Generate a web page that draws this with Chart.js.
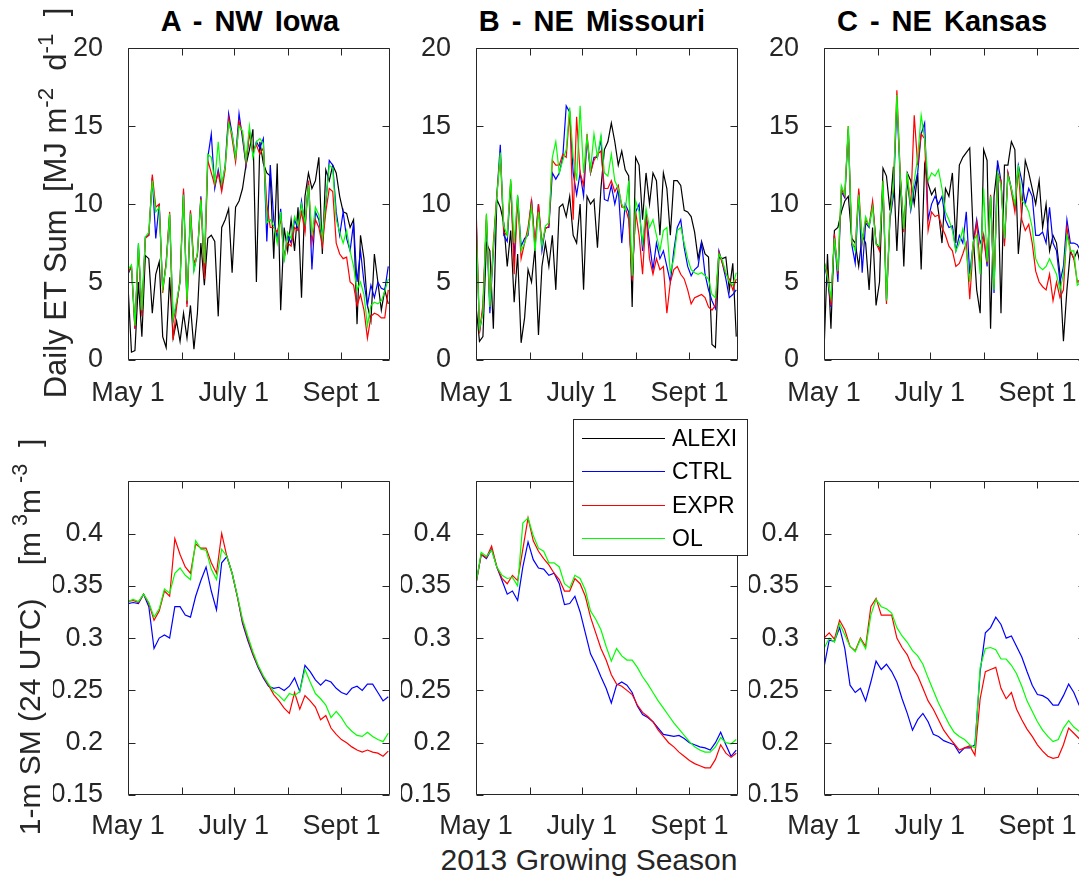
<!DOCTYPE html>
<html>
<head>
<meta charset="utf-8">
<title>ET and soil moisture, 2013 growing season</title>
<script src="https://cdn.jsdelivr.net/npm/chart.js@4.4.0/dist/chart.umd.min.js"></script>
<style>
  html, body { margin: 0; padding: 0; overflow: hidden; }
  body {
    width: 1079px; height: 882px; position: relative; background: #fff;
    font-family: "Liberation Sans", Arial, Helvetica, sans-serif; color: #262626;
  }
  canvas.panel { position: absolute; }
  .title {
    position: absolute; top: 5px; width: 340px; margin-left: -170px;
    text-align: center; font-weight: bold; font-size: 29px; line-height: 32px;
    color: #000; white-space: pre; word-spacing: 4px;
  }
  .ylab {
    position: absolute; width: 560px; height: 36px; line-height: 36px;
    margin-left: -280px; margin-top: -18px; text-align: center;
    font-size: 30px; transform: rotate(-90deg); white-space: pre; z-index: 5;
  }
  .ylab.et { font-size: 31px; }
  .ylab sup { font-size: 0.72em; vertical-align: 0.6em; line-height: 0; }
  .xlab {
    position: absolute; left: 389px; top: 843px; width: 400px; text-align: center;
    font-size: 30px; line-height: 34px;
  }
  #legend {
    position: absolute; left: 573px; top: 419px; width: 175px; height: 137px;
    box-sizing: border-box; border: 1px solid #262626; background: #fff; z-index: 10;
  }
  #legend canvas { position: absolute; left: 0; top: 0; }
  #legend .name { position: absolute; left: 98px; font-size: 23px; line-height: 26px; color: #000; }
</style>
</head>
<body>

<div class="title" style="left:250px">A - NW Iowa</div>
<div class="title" style="left:592px">B - NE Missouri</div>
<div class="title" style="left:942px">C - NE Kansas</div>

<div class="ylab et" style="left:56px; top:203px">Daily ET Sum  [MJ m<sup>-2</sup>  d<sup>-1</sup>  ]</div>
<div class="ylab" style="left:30px; top:637px">1-m SM (24 UTC)    [m<sup> 3</sup>m<sup> -3</sup>  ]</div>
<div class="xlab">2013 Growing Season</div>

<div id="legend"><canvas id="legendLines" width="173" height="135"></canvas></div>

<canvas id="etA" class="panel"></canvas>
<canvas id="etB" class="panel"></canvas>
<canvas id="etC" class="panel"></canvas>
<canvas id="smA" class="panel"></canvas>
<canvas id="smB" class="panel"></canvas>
<canvas id="smC" class="panel"></canvas>

<script>
// ---- data (days counted from May 1, 2013) ----
const seriesNames = ['ALEXI', 'CTRL', 'EXPR', 'OL'];
const seriesColors = ['#000000', '#0000ff', '#ff0000', '#00ff00'];

const xTickDays = [0, 31, 61, 92, 123];
const xTickLabels = ['May 1', '', 'July 1', '', 'Sept 1'];

const etTicks = [0, 5, 10, 15, 20];
const etTickLabels = ['0', '5', '10', '15', '20'];
const smTicks = [0.15, 0.2, 0.25, 0.3, 0.35, 0.4, 0.45];
const smTickLabels = ['0.15', '0.2', '0.25', '0.3', '0.35', '0.4', ''];

const etDays = [
  0, 2, 4, 6, 8, 10, 12, 14, 16, 18,
  20, 22, 24, 26, 28, 30, 32, 34, 36, 38,
  40, 42, 44, 46, 48, 50, 52, 54, 56, 58,
  60, 62, 64, 66, 68, 70, 72, 74, 76, 78,
  80, 82, 84, 86, 88, 90, 92, 94, 96, 98,
  100, 102, 104, 106, 108, 110, 112, 114, 116, 118,
  120, 122, 124, 126, 128, 130, 132, 134, 136, 138,
  140, 142, 144, 146, 148, 150
];
const smDays = [
  0, 3, 6, 9, 12, 15, 18, 21, 24, 27,
  30, 33, 36, 39, 42, 45, 48, 51, 54, 57,
  60, 63, 66, 69, 72, 75, 78, 81, 84, 87,
  90, 93, 96, 99, 102, 105, 108, 111, 114, 117,
  120, 123, 126, 129, 132, 135, 138, 141, 144, 147,
  150
];

// Daily ET sum [MJ m-2 d-1]
const alexiA = [
  4.8, 0.5, 0.6, 5.0, 1.5, 6.7, 6.5, 3.0, 5.5, 6.3,
  1.5, 0.8, 5.3, 1.4, 2.5, 1.2, 3.0, 1.4, 3.5, 0.7,
  3.0, 7.5, 4.8, 7.8, 8.0, 7.6, 2.8, 8.5, 9.0, 9.7,
  5.6, 9.8, 10.2, 11.0, 12.5, 13.5, 14.8, 5.0, 14.0, 12.6,
  12.0, 11.8, 6.5, 12.6, 3.2, 8.5, 7.0, 9.0, 7.0, 9.8,
  4.0, 10.5, 12.0, 11.0, 11.5, 13.0, 6.8, 12.2, 11.5, 12.5,
  12.0, 10.5, 9.5, 9.4, 8.5, 9.0, 2.3, 8.0, 6.5, 3.5,
  2.5, 6.8, 5.0, 3.2, 4.5, 3.6
];
const ctrlA = [
  5.5, 6.0, 2.0, 7.4, 3.0, 7.9, 8.0, 11.7, 7.8, 10.0,
  4.5, 6.2, 9.3, 2.5, 3.6, 5.0, 10.8, 3.6, 9.5, 5.8,
  6.8, 10.5, 6.0, 13.0, 14.5, 11.0, 12.2, 11.0, 12.5, 15.8,
  14.5, 12.9, 15.8, 14.2, 12.5, 14.7, 13.2, 14.0, 13.6, 14.2,
  7.6, 12.5, 9.0, 7.8, 9.7, 6.5, 8.0, 7.5, 9.0, 8.4,
  10.2, 8.5, 11.5, 5.8, 9.5, 9.0, 7.5, 10.0, 12.8, 12.5,
  9.5, 8.0, 9.5, 7.8, 7.0, 8.8, 5.0, 7.0, 5.0, 3.5,
  4.8, 4.0, 5.0, 4.6, 4.5, 6.0
];
const exprA = [
  5.6, 6.0, 2.0, 7.2, 2.8, 7.8, 8.0, 11.9, 9.8, 10.0,
  4.3, 6.3, 9.5, 1.3, 3.4, 5.2, 11.0, 3.4, 9.6, 6.2,
  6.7, 10.4, 5.2, 12.8, 12.0, 11.2, 12.0, 10.8, 12.2, 15.5,
  14.2, 12.7, 15.3, 14.5, 12.6, 14.5, 13.4, 13.8, 13.2, 13.6,
  10.0, 8.5, 8.5, 8.2, 9.0, 6.6, 7.5, 7.3, 8.5, 8.3,
  9.5, 8.2, 11.5, 7.5, 9.0, 8.5, 7.3, 9.5, 11.0, 10.8,
  7.5, 6.8, 6.5, 6.6, 5.0, 4.8, 3.5, 4.2, 3.2, 1.4,
  2.8, 3.0, 2.9, 2.7, 2.7, 4.5
];
const olA = [
  5.8, 6.1, 2.2, 7.5, 3.2, 7.9, 8.2, 11.5, 9.5, 9.8,
  4.6, 6.0, 9.4, 2.6, 3.8, 5.0, 10.6, 3.8, 9.4, 5.7,
  6.9, 10.3, 6.2, 13.2, 13.0, 11.4, 14.0, 11.3, 12.4, 15.2,
  14.5, 13.0, 15.0, 14.7, 12.8, 15.0, 13.0, 14.0, 14.2, 13.9,
  8.8, 9.0, 8.6, 7.5, 9.5, 6.3, 8.2, 7.8, 9.2, 8.6,
  10.0, 8.8, 11.2, 8.0, 9.8, 9.3, 7.8, 10.2, 12.5, 12.3,
  9.0, 8.2, 7.5, 8.3, 7.0, 6.0, 4.5, 5.0, 4.2, 2.2,
  3.5, 3.7, 3.6, 3.8, 4.4, 5.2
];

const alexiB = [
  3.5, 1.2, 1.5, 7.5, 7.0, 2.0, 10.3, 9.8, 8.8, 6.0,
  8.3, 3.7, 6.8, 1.1, 2.7, 5.8, 5.0, 7.2, 1.6, 6.0,
  7.5, 6.0, 8.0, 4.5, 9.8, 10.0, 9.2, 10.5, 8.0, 7.5,
  10.0, 4.5, 10.5, 10.0, 10.3, 7.2, 11.0, 13.5, 14.0, 15.2,
  14.0, 12.5, 13.4, 12.2, 11.8, 3.4, 13.0, 12.5, 9.0, 12.0,
  10.0, 12.0, 11.5, 8.0, 12.0, 11.0, 8.0, 11.5, 11.5, 11.2,
  9.6, 9.5, 9.2, 8.2, 6.5, 7.6, 6.8, 6.6, 1.0, 0.8,
  6.6, 6.5, 6.6, 4.5, 6.2, 1.5
];
const ctrlB = [
  9.5, 1.8, 3.2, 9.0, 3.0, 7.0, 10.5, 13.8, 8.0, 7.6,
  11.3, 6.5, 10.5, 7.3, 7.8, 8.0, 10.3, 7.2, 10.0, 7.0,
  8.5, 8.5, 12.0, 11.6, 12.0, 13.0, 16.3, 15.9, 12.0, 10.6,
  12.0, 10.5, 14.2, 12.0, 13.0, 13.0, 14.2, 10.3, 10.2, 11.2,
  10.0, 11.0, 7.5, 10.0, 9.5, 5.2, 9.5, 10.0, 7.0, 9.5,
  7.5, 5.8, 7.5, 6.5, 7.0, 6.0, 5.0, 7.0, 8.5, 9.0,
  7.2, 6.0, 5.4, 5.8, 6.0, 7.5, 5.5, 4.5, 3.8, 3.3,
  7.0, 6.2, 5.2, 4.0, 4.2, 4.5
];
const exprB = [
  10.1, 1.7, 3.6, 9.3, 3.5, 7.5, 10.6, 13.2, 8.2, 8.0,
  11.5, 5.5, 10.4, 6.5, 7.5, 8.5, 10.2, 7.5, 10.0, 7.5,
  8.4, 8.6, 12.8, 12.5, 12.5, 13.2, 13.0, 16.0, 9.0, 15.6,
  12.0, 11.2, 14.5, 12.0, 12.8, 13.2, 13.4, 11.0, 11.0, 11.5,
  10.8, 11.2, 9.8, 9.8, 9.0, 5.1, 9.5, 8.0, 5.5, 9.3,
  6.5, 5.5, 6.5, 5.8, 6.0, 3.0, 5.0, 5.8, 6.0, 5.5,
  5.2, 4.5, 3.6, 4.0, 4.1, 4.2, 4.0, 3.4, 3.2, 3.5,
  6.9, 6.2, 5.5, 5.2, 4.5, 5.2
];
const olB = [
  9.0, 2.0, 3.0, 9.4, 3.4, 7.2, 10.4, 13.3, 8.6, 8.0,
  11.6, 7.5, 10.6, 7.0, 7.5, 8.2, 9.8, 7.0, 9.5, 7.3,
  8.6, 8.8, 13.0, 14.0, 12.0, 12.8, 13.5, 16.2, 13.0, 11.5,
  16.3, 12.0, 14.3, 12.2, 14.5, 13.0, 14.4, 12.0, 11.8, 13.2,
  11.5, 11.0, 10.0, 9.6, 11.5, 5.4, 10.2, 9.5, 7.5, 9.7,
  8.5, 9.0, 8.0, 7.0, 8.3, 8.5, 5.6, 6.5, 8.3, 8.5,
  7.5, 6.5, 5.8, 5.6, 5.5, 5.6, 5.4, 5.2, 4.2, 4.0,
  6.8, 6.4, 5.6, 5.0, 4.8, 5.6
];

const alexiC = [
  0.5, 6.8, 2.0, 8.3, 8.5, 9.5, 10.2, 10.5, 7.8, 7.5,
  6.0, 8.0, 7.5, 4.5, 8.5, 3.5, 5.0, 12.3, 11.8, 9.6,
  12.4, 7.0, 11.8, 6.0, 12.0, 11.5, 10.0, 12.0, 5.8, 12.5,
  11.3, 10.6, 11.0, 9.5, 7.5, 11.0, 10.5, 12.0, 7.5, 12.5,
  13.0, 13.3, 13.6, 8.0, 4.5, 3.0, 13.5, 12.8, 2.0, 10.5,
  12.5, 3.0, 12.5, 12.5, 14.0, 13.5, 6.8, 9.5, 12.8, 12.0,
  11.0, 10.0, 11.5, 8.5, 10.0, 7.0, 8.0, 7.5, 5.5, 1.2,
  4.5, 7.0, 6.5, 7.0, 6.0, 5.5
];
const ctrlC = [
  6.2, 5.2, 3.4, 8.0, 5.0, 10.8, 10.4, 14.8, 7.4, 6.2,
  10.8, 5.6, 8.8, 8.5, 10.0, 7.5, 7.2, 11.2, 3.8, 9.0,
  10.5, 16.5, 11.5, 8.5, 11.5, 9.6, 11.0, 12.0, 14.5, 15.2,
  9.0, 10.0, 10.5, 10.0, 10.5, 9.0, 8.5, 8.6, 7.0, 8.0,
  7.5, 9.5, 5.5, 7.5, 9.0, 7.5, 8.0, 6.0, 10.5, 4.3,
  12.8, 11.5, 7.5, 12.0, 11.0, 9.8, 12.5, 11.5, 10.0, 11.0,
  10.5, 8.0, 8.0, 8.2, 7.5, 9.8, 7.5, 7.0, 5.0, 6.0,
  9.0, 7.5, 7.5, 7.4, 7.0, 6.8
];
const exprC = [
  6.3, 5.6, 3.5, 8.1, 5.5, 11.0, 10.5, 15.0, 7.5, 7.2,
  11.0, 7.5, 9.0, 8.6, 10.2, 7.5, 7.0, 11.5, 3.6, 9.2,
  11.0, 17.3, 11.8, 8.2, 11.8, 9.8, 15.7, 12.5, 14.5, 14.2,
  8.3, 9.5, 9.2, 9.3, 8.5, 8.0, 7.3, 7.0, 6.0, 6.2,
  6.8, 7.5, 3.9, 7.3, 8.8, 6.0, 8.0, 6.2, 10.6, 4.8,
  12.0, 11.5, 7.3, 12.0, 10.8, 9.5, 12.3, 9.0, 8.3, 8.7,
  7.5, 5.7, 5.0, 4.7, 4.5, 5.5, 3.8, 5.0, 4.0, 4.5,
  8.5, 7.0, 6.5, 5.0, 5.2, 5.5
];
const olC = [
  6.4, 5.3, 4.0, 7.8, 5.7, 11.2, 10.6, 15.0, 7.6, 7.0,
  10.6, 7.6, 9.2, 8.6, 9.8, 7.4, 7.3, 11.5, 3.8, 9.3,
  11.0, 17.0, 11.6, 8.4, 12.0, 9.8, 11.5, 13.0, 15.7, 14.2,
  11.5, 12.0, 11.8, 12.2, 11.0, 9.5, 9.0, 8.3, 7.0, 7.5,
  8.4, 7.0, 5.0, 7.6, 8.0, 5.5, 11.0, 6.3, 10.5, 4.5,
  12.0, 11.2, 7.8, 11.8, 11.0, 10.0, 12.5, 10.2, 10.0, 9.5,
  8.5, 6.5, 6.0, 5.8, 6.0, 6.5, 6.0, 5.5, 4.5, 5.5,
  8.0, 7.0, 7.0, 4.8, 5.0, 5.2
];

// 1-m soil moisture at 24 UTC [m3 m-3]
const ctrlSmA = [
  0.333, 0.334, 0.333, 0.342, 0.330, 0.290, 0.300, 0.303, 0.300, 0.330,
  0.330, 0.322, 0.320, 0.340, 0.355, 0.368, 0.345, 0.327, 0.372, 0.378,
  0.362, 0.340, 0.314, 0.298, 0.284, 0.272, 0.262, 0.254, 0.252, 0.253,
  0.250, 0.254, 0.262, 0.249, 0.274, 0.268, 0.260, 0.255, 0.260, 0.258,
  0.252, 0.248, 0.246, 0.252, 0.254, 0.250, 0.256, 0.256, 0.248, 0.240,
  0.244
];
const exprSmA = [
  0.335, 0.336, 0.334, 0.342, 0.333, 0.317, 0.326, 0.345, 0.340, 0.395,
  0.380, 0.368, 0.362, 0.390, 0.386, 0.386, 0.372, 0.362, 0.400, 0.378,
  0.362, 0.340, 0.316, 0.300, 0.285, 0.273, 0.263, 0.255, 0.246, 0.240,
  0.233, 0.228, 0.248, 0.232, 0.245, 0.240, 0.234, 0.222, 0.226, 0.214,
  0.208, 0.203, 0.200, 0.196, 0.193, 0.191, 0.193, 0.191, 0.190, 0.187,
  0.192
];
const olSmA = [
  0.335, 0.337, 0.335, 0.342, 0.334, 0.320, 0.328, 0.347, 0.343, 0.362,
  0.367, 0.360, 0.356, 0.393, 0.385, 0.384, 0.366, 0.356, 0.385, 0.378,
  0.362, 0.341, 0.318, 0.302, 0.287, 0.274, 0.264, 0.256, 0.249, 0.245,
  0.240, 0.247, 0.245, 0.249, 0.270, 0.258, 0.247, 0.242, 0.236, 0.224,
  0.230, 0.224, 0.216, 0.211, 0.207, 0.206, 0.210, 0.206, 0.203, 0.201,
  0.209
];

const ctrlSmB = [
  0.352, 0.380, 0.376, 0.385, 0.368, 0.355, 0.342, 0.345, 0.336, 0.368,
  0.392, 0.375, 0.367, 0.366, 0.360, 0.362, 0.352, 0.332, 0.333, 0.340,
  0.325, 0.305, 0.285, 0.275, 0.263, 0.252, 0.238, 0.255, 0.258, 0.255,
  0.248, 0.235, 0.227, 0.224, 0.220, 0.214, 0.208, 0.207, 0.206, 0.207,
  0.204, 0.200, 0.198, 0.196, 0.195, 0.193, 0.200, 0.210, 0.198, 0.187,
  0.193
];
const exprSmB = [
  0.352, 0.380, 0.377, 0.388, 0.368, 0.357, 0.352, 0.360, 0.355, 0.385,
  0.415, 0.393, 0.383, 0.376, 0.370, 0.362, 0.356, 0.345, 0.345, 0.357,
  0.352, 0.340, 0.320, 0.305, 0.290, 0.279, 0.265, 0.256, 0.254, 0.250,
  0.246, 0.236, 0.229, 0.225, 0.220, 0.212, 0.206, 0.200, 0.196, 0.191,
  0.187, 0.183, 0.180, 0.178, 0.176, 0.176, 0.184, 0.198, 0.190, 0.186,
  0.190
];
const olSmB = [
  0.352, 0.382, 0.378, 0.384, 0.368, 0.360, 0.357, 0.358, 0.350, 0.410,
  0.415, 0.398, 0.386, 0.383, 0.372, 0.372, 0.368, 0.352, 0.348, 0.360,
  0.357, 0.346, 0.326, 0.318, 0.308, 0.292, 0.278, 0.290, 0.283, 0.279,
  0.279, 0.272, 0.263, 0.256, 0.248, 0.240, 0.233, 0.226, 0.219, 0.213,
  0.207, 0.201, 0.196, 0.193, 0.191, 0.191, 0.196, 0.205, 0.200, 0.199,
  0.203
];

const ctrlSmC = [
  0.272, 0.298, 0.297, 0.310, 0.290, 0.255, 0.248, 0.252, 0.240, 0.258,
  0.278, 0.270, 0.275, 0.268, 0.258, 0.242, 0.228, 0.212, 0.222, 0.228,
  0.220, 0.208, 0.206, 0.202, 0.200, 0.198, 0.190, 0.195, 0.195, 0.198,
  0.268, 0.305, 0.310, 0.320, 0.313, 0.300, 0.302, 0.292, 0.282, 0.268,
  0.255, 0.246, 0.245, 0.242, 0.236, 0.236, 0.245, 0.256, 0.248, 0.236,
  0.238
];
const exprSmC = [
  0.300, 0.305, 0.299, 0.317, 0.308, 0.292, 0.288, 0.300, 0.292, 0.330,
  0.338, 0.322, 0.322, 0.322, 0.300, 0.291, 0.284, 0.272, 0.264, 0.252,
  0.240, 0.232, 0.222, 0.212, 0.205, 0.199, 0.193, 0.195, 0.197, 0.188,
  0.242, 0.268, 0.270, 0.272, 0.252, 0.242, 0.248, 0.232, 0.222, 0.213,
  0.206, 0.198, 0.192, 0.187, 0.185, 0.186, 0.198, 0.214, 0.209, 0.204,
  0.205
];
const olSmC = [
  0.290, 0.300, 0.296, 0.314, 0.303, 0.292, 0.287, 0.299, 0.290, 0.322,
  0.337, 0.330, 0.328, 0.324, 0.310, 0.302, 0.296, 0.288, 0.283, 0.275,
  0.262, 0.250, 0.238, 0.228, 0.218, 0.210, 0.206, 0.203, 0.198, 0.195,
  0.272, 0.290, 0.291, 0.289, 0.280, 0.280, 0.274, 0.266, 0.254, 0.240,
  0.230, 0.220, 0.212, 0.206, 0.201, 0.203, 0.214, 0.221, 0.215, 0.211,
  0.210
];

// ---- layout ----
const FONT = '"Liberation Sans", Arial, Helvetica, sans-serif';
const TEXT_COLOR = '#262626';
const Y_AXIS_W = 75;   // room for y tick labels, left of the plot box
const X_AXIS_H = 60;   // room for x tick labels, below the plot box
const PAD = 8;

const panels = [
  { id: 'etA', left: 128, top: 48, width: 262, height: 312, days: etDays, series: [alexiA, ctrlA, exprA, olA], yMin: 0, yMax: 20, ticks: etTicks, labels: etTickLabels, xPad: 9 },
  { id: 'etB', left: 476, top: 48, width: 262, height: 312, days: etDays, series: [alexiB, ctrlB, exprB, olB], yMin: 0, yMax: 20, ticks: etTicks, labels: etTickLabels, xPad: 9 },
  { id: 'etC', left: 824, top: 48, width: 262, height: 312, days: etDays, series: [alexiC, ctrlC, exprC, olC], yMin: 0, yMax: 20, ticks: etTicks, labels: etTickLabels, xPad: 9 },
  { id: 'smA', left: 128, top: 481, width: 262, height: 314, days: smDays, series: [null, ctrlSmA, exprSmA, olSmA], yMin: 0.15, yMax: 0.45, ticks: smTicks, labels: smTickLabels, xPad: 7 },
  { id: 'smB', left: 476, top: 481, width: 262, height: 314, days: smDays, series: [null, ctrlSmB, exprSmB, olSmB], yMin: 0.15, yMax: 0.45, ticks: smTicks, labels: smTickLabels, xPad: 7 },
  { id: 'smC', left: 824, top: 481, width: 262, height: 314, days: smDays, series: [null, ctrlSmC, exprSmC, olSmC], yMin: 0.15, yMax: 0.45, ticks: smTicks, labels: smTickLabels, xPad: 7 }
];

// MATLAB-style box with inward ticks on all four sides
const boxPlugin = {
  id: 'box',
  afterDraw(chart) {
    const { ctx, chartArea: a, scales } = chart;
    const len = 7;
    const l = Math.round(a.left) + 0.5, r = Math.round(a.right) - 0.5;
    const t = Math.round(a.top) + 0.5, b = Math.round(a.bottom) - 0.5;
    ctx.save();
    ctx.strokeStyle = TEXT_COLOR;
    ctx.lineWidth = 1;
    ctx.beginPath();
    ctx.rect(l, t, r - l, b - t);
    scales.x.ticks.forEach(tk => {
      const x = Math.round(scales.x.getPixelForValue(tk.value)) + 0.5;
      ctx.moveTo(x, b); ctx.lineTo(x, b - len);
      ctx.moveTo(x, t); ctx.lineTo(x, t + len);
    });
    scales.y.ticks.forEach(tk => {
      const y = Math.round(scales.y.getPixelForValue(tk.value)) + 0.5;
      ctx.moveTo(l, y); ctx.lineTo(l + len, y);
      ctx.moveTo(r, y); ctx.lineTo(r - len, y);
    });
    ctx.stroke();
    ctx.restore();
  }
};

function toPoints(days, values) {
  const n = Math.min(days.length, values.length);
  const pts = [];
  for (let i = 0; i < n; i++) pts.push({ x: days[i], y: values[i] });
  return pts;
}

function makeChart(canvas, w, h, p) {
  canvas.width = w;
  canvas.height = h;

  const datasets = [];
  p.series.forEach((values, idx) => {
    if (!values) return;
    datasets.push({
      label: seriesNames[idx],
      data: toPoints(p.days, values),
      borderColor: seriesColors[idx],
      borderWidth: 1.2,
      pointRadius: 0,
      tension: 0,
      fill: false,
      order: seriesNames.length - 1 - idx   // ALEXI underneath, OL on top
    });
  });

  const tickFont = { family: FONT, size: 27 };

  return new Chart(canvas, {
    type: 'line',
    data: { datasets },
    options: {
      responsive: false,
      maintainAspectRatio: false,
      animation: false,
      devicePixelRatio: 1,
      layout: { padding: { top: PAD, right: PAD, left: 0, bottom: 0 } },
      plugins: { legend: { display: false }, tooltip: { enabled: false } },
      scales: {
        x: {
          type: 'linear',
          min: 0,
          max: 151,
          grid: { display: false },
          border: { display: false },
          afterBuildTicks: s => { s.ticks = xTickDays.map(v => ({ value: v })); },
          afterFit: s => { s.height = X_AXIS_H; },
          ticks: {
            font: tickFont, color: TEXT_COLOR, padding: p.xPad,
            autoSkip: false, maxRotation: 0, minRotation: 0,
            callback: (v, i) => xTickLabels[i]
          }
        },
        y: {
          type: 'linear',
          min: p.yMin,
          max: p.yMax,
          grid: { display: false },
          border: { display: false },
          afterBuildTicks: s => { s.ticks = p.ticks.map(v => ({ value: v })); },
          afterFit: s => { s.width = Y_AXIS_W; },
          ticks: {
            font: tickFont, color: TEXT_COLOR, padding: 17, autoSkip: false,
            callback: (v, i) => p.labels[i]
          }
        }
      }
    },
    plugins: [boxPlugin]
  });
}

function buildPanel(p) {
  const canvas = document.getElementById(p.id);
  let w = Y_AXIS_W + p.width + PAD;
  let h = PAD + p.height + X_AXIS_H;
  let chart = makeChart(canvas, w, h, p);

  // Chart.js adds its own padding for edge labels; grow the canvas so the
  // plot box ends up exactly p.width x p.height, then place it.
  const a = chart.chartArea;
  const dw = Math.round(p.width - (a.right - a.left));
  const dh = Math.round(p.height - (a.bottom - a.top));
  if (dw !== 0 || dh !== 0) {
    chart.destroy();
    w += dw;
    h += dh;
    chart = makeChart(canvas, w, h, p);
  }
  const b = chart.chartArea;
  canvas.style.left = (p.left - Math.round(b.left)) + 'px';
  canvas.style.top = (p.top - Math.round(b.top)) + 'px';
  return chart;
}

// shared legend box sitting over the lower middle panel
function buildLegend() {
  const box = document.getElementById('legend');
  const ctx = document.getElementById('legendLines').getContext('2d');
  const rowCenters = [18, 51, 85, 118];
  ctx.lineWidth = 1.2;
  seriesNames.forEach((name, i) => {
    ctx.strokeStyle = seriesColors[i];
    ctx.beginPath();
    ctx.moveTo(8, rowCenters[i] + 0.5);
    ctx.lineTo(91, rowCenters[i] + 0.5);
    ctx.stroke();

    const label = document.createElement('div');
    label.className = 'name';
    label.style.top = (rowCenters[i] - 13) + 'px';
    label.textContent = name;
    box.appendChild(label);
  });
}

panels.forEach(buildPanel);
buildLegend();
</script>
</body>
</html>
